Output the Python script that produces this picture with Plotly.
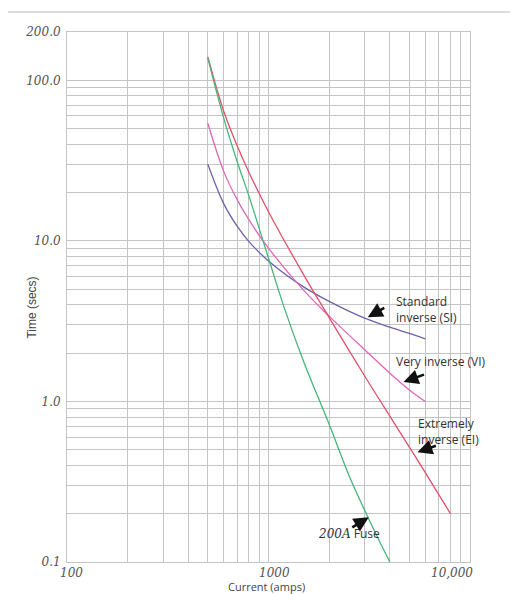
import math
import plotly.graph_objects as go

# ---- data ----
si_current = [500, 600, 700, 800, 1000, 1500, 2000, 3000, 4000, 5000, 6000]
si_time = [30, 17, 12.3, 9.9, 7.5, 5.15, 4.2, 3.3, 2.9, 2.65, 2.45]

vi_current = [500, 600, 700, 800, 1000, 1500, 2000, 3000, 4000, 5000, 6000]
vi_time = [54, 27, 18, 13.5, 9.0, 4.9, 3.4, 2.1, 1.5, 1.18, 1.0]

ei_current = [500, 600, 700, 800, 1000, 1500, 2000, 3000, 4000, 5000, 6000, 8000]
ei_time = [140, 64, 39, 26.7, 15.2, 6.1, 3.33, 1.44, 0.81, 0.52, 0.36, 0.2]

fuse_current = [500, 600, 700, 800, 1000, 1200, 1500, 2000, 2500, 3000, 3500, 4000]
fuse_time = [137, 58, 31, 19, 7.8, 3.8, 1.75, 0.72, 0.35, 0.21, 0.14, 0.1]

x_grid = [100, 200, 300, 400, 500, 600, 700, 800, 900,
          1000, 2000, 3000, 4000, 5000, 6000, 7000, 8000, 9000, 10000]
y_grid = [0.1, 0.2, 0.3, 0.4, 0.5, 0.6, 0.7, 0.8, 0.9,
          1, 2, 3, 4, 5, 6, 7, 8, 9,
          10, 20, 30, 40, 50, 60, 70, 80, 90, 100, 200]
y_labels = {0.1: "0.1", 1: "1.0", 10: "10.0", 100: "100.0", 200: "200.0"}
x_labels = [(100, "100", "center", 4), (1000, "1000", "center", 6), (10000, "10,000", "right", 5)]

series = [
    ("Standard inverse (SI)", si_current, si_time, "#6b64ab"),
    ("Very inverse (VI)", vi_current, vi_time, "#e266b8"),
    ("Extremely inverse (EI)", ei_current, ei_time, "#e2516a"),
    ("200A Fuse", fuse_current, fuse_time, "#45b678"),
]

fig = go.Figure()
for name, xs, ys, col in series:
    fig.add_trace(go.Scatter(x=xs, y=ys, mode="lines", name=name,
                             line=dict(color=col, width=1.3, shape="spline"),
                             showlegend=False))

grid_col = "#c4c4c4"
tick_font = dict(family="DejaVu Serif", size=12, color="#555")

fig.update_xaxes(type="log", range=[2, 4], tickvals=x_grid,
                 ticktext=["" for _ in x_grid], showgrid=True,
                 gridcolor=grid_col, gridwidth=1, showline=True,
                 linecolor=grid_col, linewidth=1, mirror=True, zeroline=False,
                 ticks="", automargin=False)
fig.update_yaxes(type="log", range=[-1, math.log10(200)], tickvals=y_grid,
                 ticktext=["<i>%s</i>" % y_labels[v] if v in y_labels else "" for v in y_grid],
                 tickfont=tick_font, showgrid=True, gridcolor=grid_col,
                 gridwidth=1, showline=True, linecolor=grid_col, linewidth=1,
                 mirror=True, zeroline=False, ticks="", ticklabelstandoff=3,
                 automargin=False)

ann = []
for v, t, anchor, shift in x_labels:
    ann.append(dict(x=math.log10(v), y=0, xref="x", yref="paper", yanchor="top",
                    xanchor=anchor, xshift=shift, yshift=-2, showarrow=False,
                    text="<i>%s</i>" % t, font=tick_font))

ann.append(dict(x=0.5, y=0, xref="paper", yref="paper", yanchor="top", yshift=-15,
                xshift=-2, showarrow=False, text="Current (amps)",
                font=dict(family="Open Sans", size=11, color="#444")))
ann.append(dict(x=0, y=0.48, xref="paper", yref="paper", xanchor="right", xshift=-26,
                showarrow=False, text="Time (secs)", textangle=-90,
                font=dict(family="Liberation Sans Narrow, Liberation Sans", size=12, color="#444")))

label_font = dict(family="Open Sans", size=12, color="#333")
texts = [
    (4176, 3.73, "Standard<br>inverse (SI)"),
    (4176, 1.78, "Very inverse (VI)"),
    (5420, 0.653, "Extremely<br>inverse (EI)"),
]
for x, y, t in texts:
    ann.append(dict(x=math.log10(x), y=math.log10(y), xref="x", yref="y",
                    xanchor="left", yanchor="middle", align="left", showarrow=False,
                    text=t, font=label_font))
ann.append(dict(x=math.log10(1722), y=math.log10(0.151), xref="x", yref="y",
                xanchor="left", yanchor="middle", showarrow=False,
                text="<i><span style='font-family:DejaVu Serif'>200A</span></i> Fuse",
                font=label_font))

arrows = [
    (3109, 3.35, 18, -10),
    (4677, 1.32, 22, -8),
    (5483, 0.483, 20, -7),
    (3145, 0.19, -18, 11),
]
for x, y, ax, ay in arrows:
    ann.append(dict(x=math.log10(x), y=math.log10(y), xref="x", yref="y",
                    ax=ax, ay=ay, text="", showarrow=True, arrowhead=2,
                    arrowsize=1.15, arrowwidth=2.6, arrowcolor="#111"))

# the page body adds an 8px offset, so the figure is sized to fit the window
fig.update_layout(
    width=510, height=586,
    margin=dict(l=59, r=48, t=24, b=32),
    paper_bgcolor="white", plot_bgcolor="white",
    annotations=ann,
    shapes=[dict(type="line", xref="paper", yref="paper",
                 x0=-0.146, x1=1.12, y0=1.0377, y1=1.0377,
                 line=dict(color="#dddddd", width=2))],
)

fig.write_html("out.html")
